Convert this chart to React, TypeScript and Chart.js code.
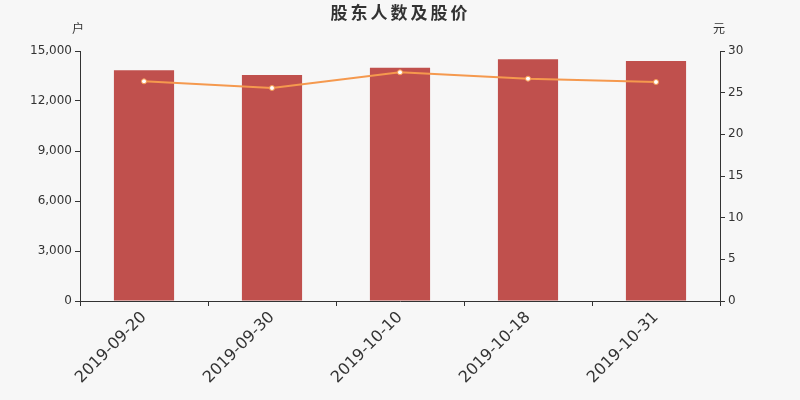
import React, { useEffect, useRef } from "react";
import { Chart, registerables } from "chart.js";

Chart.register(...registerables);

const categories = ["2019-09-20", "2019-09-30", "2019-10-10", "2019-10-18", "2019-10-31"];
const holders = [13850, 13560, 13990, 14500, 14400];
const prices = [26.36, 25.56, 27.44, 26.68, 26.28];
const leftTicks = [0, 3000, 6000, 9000, 12000, 15000];
const rightTicks = [0, 5, 10, 15, 20, 25, 30];

const TITLE = "股东人数及股价";
const LEFT_UNIT = "户";
const RIGHT_UNIT = "元";

const tickFont = { family: "DejaVu Sans", size: 12 };

const overlay = {
  id: "overlay",
  afterDraw(chart: any) {
    const ctx = chart.ctx;
    ctx.save();
    ctx.fillStyle = "#333";
    ctx.textBaseline = "middle";
    ctx.font = "bold 17px 'Noto Sans CJK SC'";
    const chars = Array.from(TITLE);
    const gap = 3;
    const widths = chars.map((c) => ctx.measureText(c).width);
    const total = widths.reduce((a, b) => a + b, 0) + gap * (chars.length - 1);
    let x = 399 - total / 2;
    ctx.textAlign = "left";
    chars.forEach((c, i) => {
      ctx.fillText(c, x, 13);
      x += widths[i] + gap;
    });
    ctx.textAlign = "center";
    ctx.font = "12px 'Noto Sans CJK SC'";
    ctx.fillText(LEFT_UNIT, 78, 28);
    ctx.fillText(RIGHT_UNIT, 719, 28);
    ctx.restore();
  },
};

const bg = {
  id: "bg",
  beforeDraw(chart: any) {
    const ctx = chart.ctx;
    ctx.save();
    ctx.fillStyle = "#f7f7f7";
    ctx.fillRect(0, 0, chart.width, chart.height);
    ctx.restore();
  },
};

export default function App() {
  const ref = useRef<HTMLCanvasElement>(null);
  useEffect(() => {
    const chart = new Chart(ref.current!, {
      type: "bar",
      data: {
        labels: categories,
        datasets: [
          {
            type: "line",
            data: prices,
            yAxisID: "y1",
            borderColor: "#f5994e",
            borderWidth: 2,
            pointRadius: 2.5,
            pointBackgroundColor: "#ffffff",
            pointBorderColor: "#f5994e",
            pointBorderWidth: 1,
            tension: 0,
            order: 0,
          } as any,
          {
            type: "bar",
            data: holders,
            yAxisID: "y",
            backgroundColor: "#c0504d",
            borderWidth: 0,
            barPercentage: 0.47,
            categoryPercentage: 1,
            order: 1,
          },
        ],
      },
      plugins: [bg, overlay],
      options: {
        animation: false,
        responsive: false,
        layout: { padding: { top: 51, left: 0, right: 0, bottom: 0 } },
        plugins: { legend: { display: false }, tooltip: { enabled: false }, title: { display: false } },
        scales: {
          x: {
            offset: true,
            grid: { display: true, drawOnChartArea: false, tickLength: 5, color: "#333", offset: true },
            border: { color: "#333", width: 1 },
            ticks: {
              color: "#333",
              font: { family: "DejaVu Sans", size: 16 },
              maxRotation: 45,
              minRotation: 45,
              padding: 2,
            },
            afterFit(s: any) {
              s.height = 99;
            },
          },
          y: {
            position: "left",
            min: 0,
            max: 15000,
            afterBuildTicks(s: any) {
              s.ticks = leftTicks.map((v) => ({ value: v }));
            },
            grid: { display: true, drawOnChartArea: false, tickLength: 5, color: "#333" },
            border: { color: "#333", width: 1 },
            ticks: {
              color: "#333",
              font: tickFont,
              padding: 3,
              callback: (v: any) => Number(v).toLocaleString("en-US"),
            },
            afterFit(s: any) {
              s.width = 80;
            },
          },
          y1: {
            position: "right",
            min: 0,
            max: 30,
            afterBuildTicks(s: any) {
              s.ticks = rightTicks.map((v) => ({ value: v }));
            },
            grid: { display: true, drawOnChartArea: false, tickLength: 5, color: "#333" },
            border: { color: "#333", width: 1 },
            ticks: { color: "#333", font: tickFont, padding: 3 },
            afterFit(s: any) {
              s.width = 80;
            },
          },
        },
      },
    });
    return () => chart.destroy();
  }, []);
  return (
    <div style={{ position: "fixed", left: 0, top: 0, width: 800, height: 400 }}>
      <canvas ref={ref} width={800} height={400} />
    </div>
  );
}
